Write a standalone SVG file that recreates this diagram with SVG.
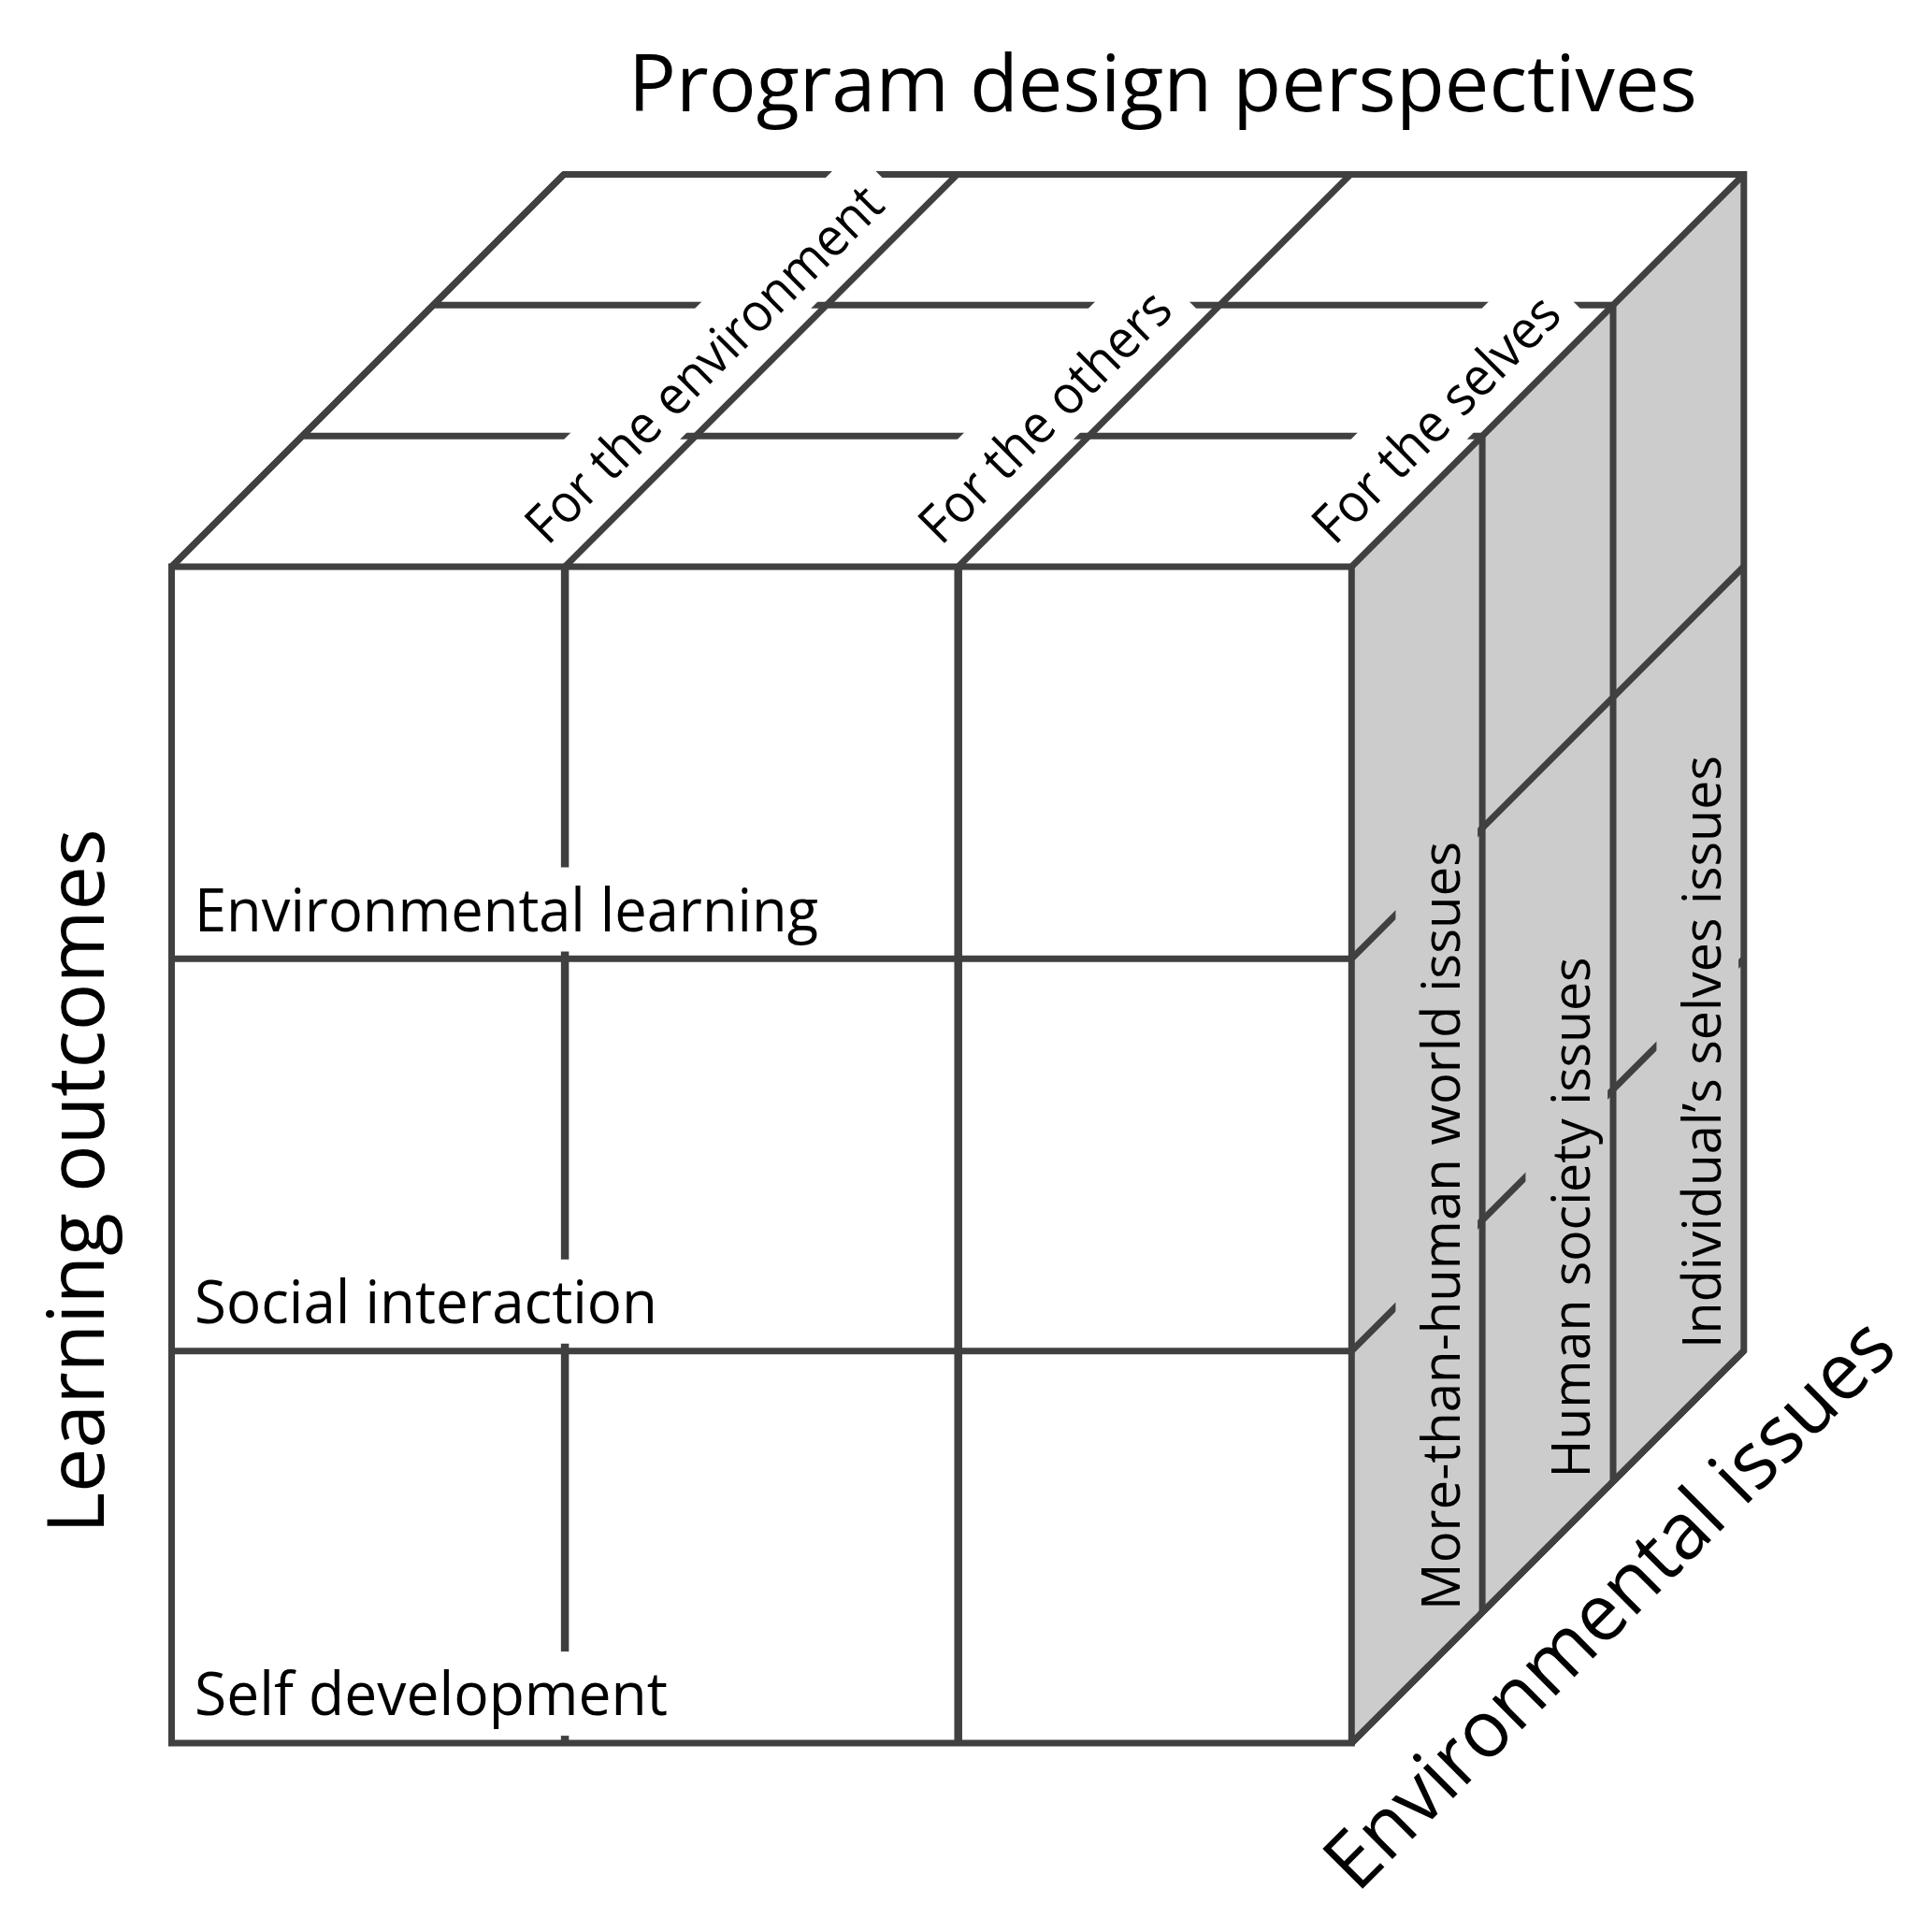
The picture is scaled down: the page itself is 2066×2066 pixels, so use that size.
<svg xmlns="http://www.w3.org/2000/svg" width="2066" height="2066" viewBox="0 0 2066 2066">
<style>
.ln{stroke:#404040;stroke-width:7;fill:none;stroke-linejoin:miter;stroke-linecap:butt}
.lv{stroke:#404040;stroke-width:8.5;fill:none}
.t{font-family:'Open Sans','Noto Sans','DejaVu Sans',sans-serif;fill:#000}
.wb{fill:#ffffff}
.gb{fill:#cccccc}
</style>
<rect x="0" y="0" width="2066" height="2066" fill="#ffffff"/>
<g id="faces">
  <polygon class="gb" points="1445.3,606 1864.8,186.5 1864.8,1025.2 1864.8,1444.5 1445.3,1864"/>
</g>
<g id="connectors">
  <g id="under-lines">
    <path class="ln" d="M183.5,606 L603,186.5 H1864.8 V1444.5 L1445.3,1864"/>
    <path class="ln" d="M323.3,466.2 H1585.1 M463.2,326.3 H1725"/>
    <path class="ln" d="M1445.3,1025.3 L1864.8,605.8 M1445.3,1444.7 L1864.8,1025.2"/>
    <path class="lv" d="M604.1,606 V1864"/>
  </g>
</g>
<g id="row-environmental-learning">
  <rect class="wb" x="197" y="927.5" width="696" height="90"/>
  <text class="t" x="208" y="995.5" font-size="64" textLength="667" lengthAdjust="spacingAndGlyphs">Environmental learning</text>
</g>
<g id="row-social-interaction">
  <rect class="wb" x="197" y="1346.8" width="696" height="90"/>
  <text class="t" x="208" y="1414.8" font-size="64" textLength="495" lengthAdjust="spacingAndGlyphs">Social interaction</text>
</g>
<g id="row-self-development">
  <rect class="wb" x="197" y="1766.1" width="696" height="90"/>
  <text class="t" x="208" y="1834.1" font-size="64" textLength="506" lengthAdjust="spacingAndGlyphs">Self development</text>
</g>
<g id="col-environment" transform="translate(585.5,584.5) rotate(-45)">
  <rect class="wb" x="-7" y="-68.6" width="539" height="87.7"/>
  <text class="t" x="0" y="0" font-size="57" textLength="513" lengthAdjust="spacingAndGlyphs">For the environment</text>
</g>
<g id="col-others" transform="translate(1006.2,584.5) rotate(-45)">
  <rect class="wb" x="-7" y="-68.6" width="380" height="87.7"/>
  <text class="t" x="0" y="0" font-size="57" textLength="354" lengthAdjust="spacingAndGlyphs">For the others</text>
</g>
<g id="col-selves" transform="translate(1426.9,584.5) rotate(-45)">
  <rect class="wb" x="-7" y="-68.6" width="373" height="87.7"/>
  <text class="t" x="0" y="0" font-size="57" textLength="347" lengthAdjust="spacingAndGlyphs">For the selves</text>
</g>
<g id="depth-more-than-human" transform="translate(1561,1722) rotate(-90)">
  <rect class="gb" x="-6" y="-68.6" width="847" height="87.7"/>
  <text class="t" x="0" y="0" font-size="57" textLength="822" lengthAdjust="spacingAndGlyphs">More-than-human world issues</text>
</g>
<g id="depth-human-society" transform="translate(1700,1580.5) rotate(-90)">
  <rect class="gb" x="-6" y="-68.6" width="582" height="87.7"/>
  <text class="t" x="0" y="0" font-size="57" textLength="557" lengthAdjust="spacingAndGlyphs">Human society issues</text>
</g>
<g id="depth-individual" transform="translate(1840,1442) rotate(-90)">
  <rect class="gb" x="-6" y="-68.6" width="659" height="87.7"/>
  <text class="t" x="0" y="0" font-size="57" textLength="634" lengthAdjust="spacingAndGlyphs">Individual’s selves issues</text>
</g>
<g id="cube-edges">
  <rect class="ln" x="183.5" y="606" width="1261.8" height="1258"/>
  <path class="ln" d="M183.5,1025.3 H1445.3 M183.5,1444.7 H1445.3"/>
  <path class="lv" d="M1024.7,606 V1864"/>
  <path class="ln" d="M183.5,606 L603,186.5 M604.1,606 L1023.6,186.5 M1024.7,606 L1444.2,186.5 M1445.3,606 L1864.8,186.5"/>
  <path class="ln" d="M1585.1,466.2 V1724.2 M1725,326.3 V1584.3"/>
  <path class="ln" d="M1864.8,1444.5 L1445.3,1864"/>
</g>
<g id="axis-titles">
  <text class="t" x="672" y="119.3" font-size="85" textLength="1143" lengthAdjust="spacingAndGlyphs">Program design perspectives</text>
  <text class="t" transform="translate(110.5,1640) rotate(-90)" x="0" y="0" font-size="85" textLength="754" lengthAdjust="spacingAndGlyphs">Learning outcomes</text>
  <text class="t" transform="translate(1451.6,2025.4) rotate(-45)" x="0" y="0" font-size="85" textLength="820" lengthAdjust="spacingAndGlyphs">Environmental issues</text>
</g>
</svg>
